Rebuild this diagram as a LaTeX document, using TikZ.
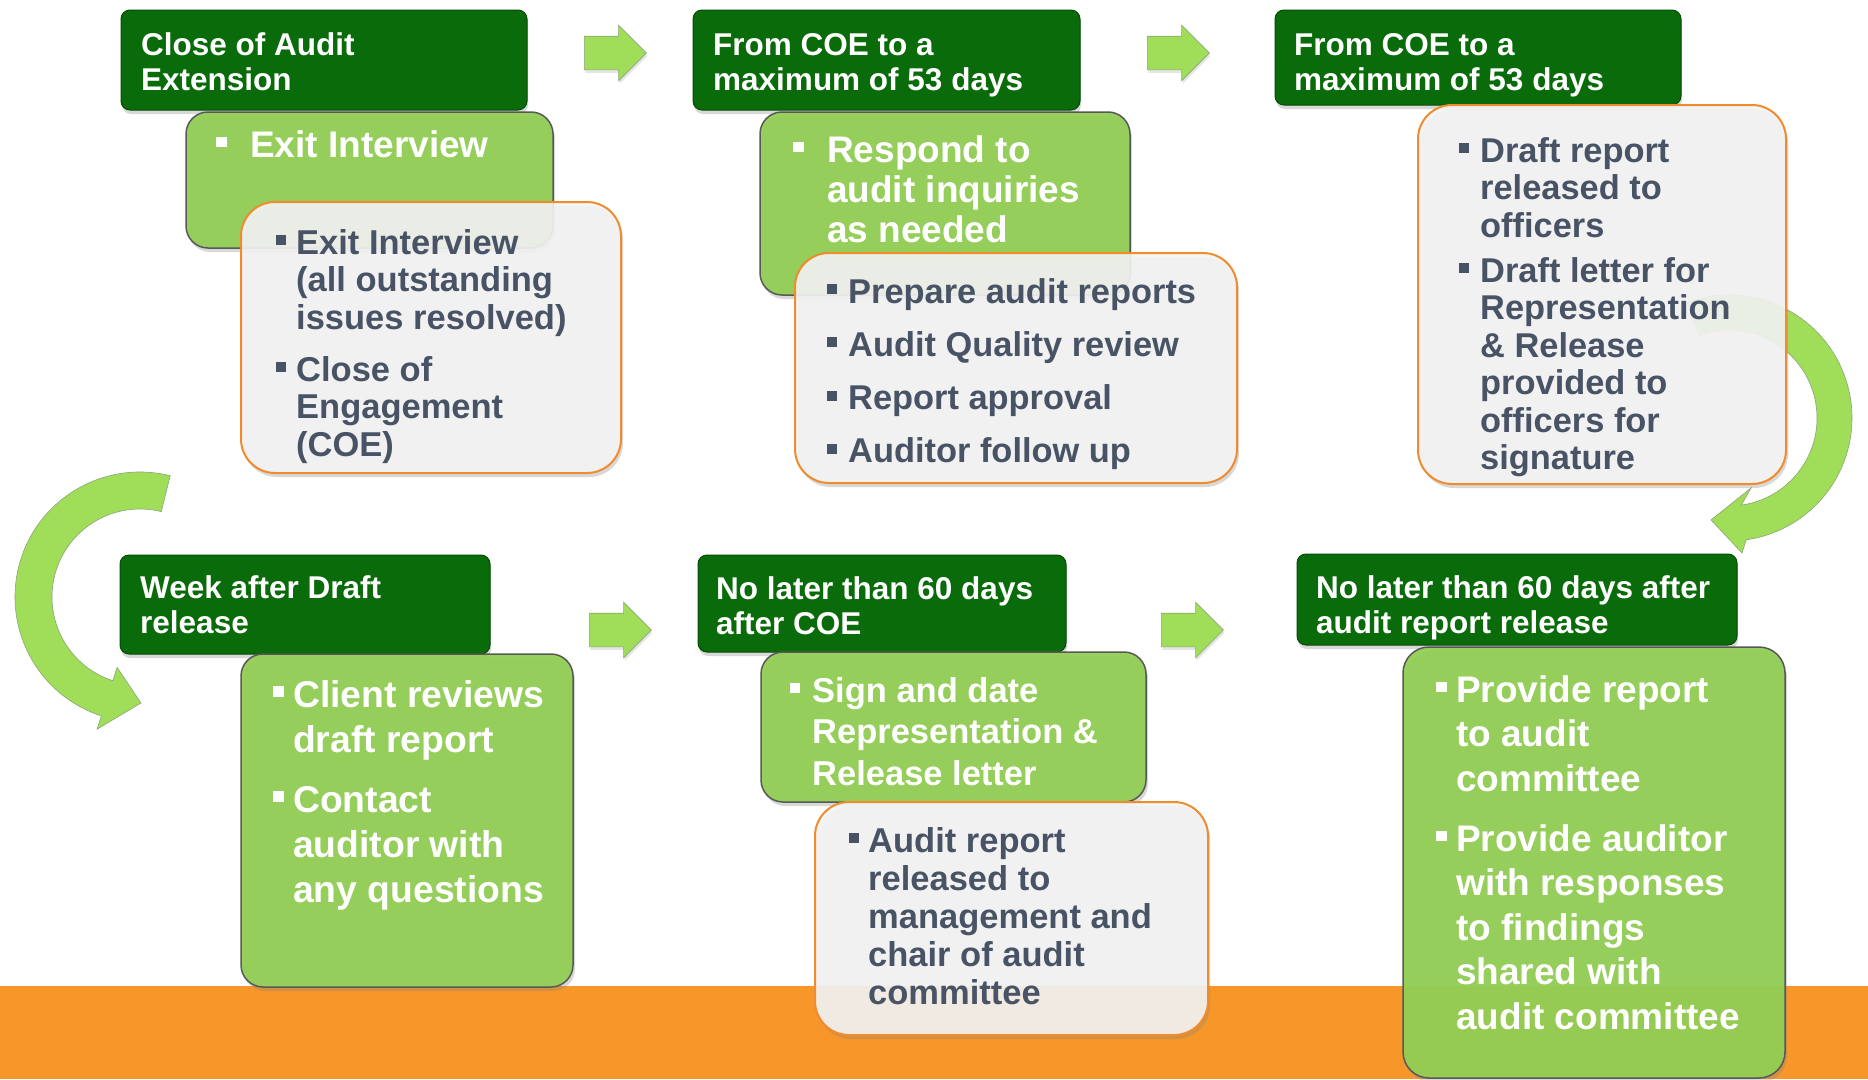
\documentclass[tikz,border=0pt]{standalone}
\usepackage{fontspec}
\setmainfont{Liberation Sans}
\usetikzlibrary{shapes.arrows, shadows, calc}
\definecolor{hdgreen}{RGB}{9,107,9}
\definecolor{taskgreen}{RGB}{146,206,84}
\definecolor{taskline}{RGB}{88,88,88}
\definecolor{notefill}{RGB}{244,244,244}
\definecolor{noterim}{RGB}{240,140,45}
\definecolor{slate}{RGB}{72,84,102}
\definecolor{bandorange}{RGB}{247,151,41}
\definecolor{arrowgreen}{RGB}{160,222,90}
\definecolor{arrowline}{RGB}{140,165,120}

% square bullet and hanging item
\newcommand{\sqbullet}{\rule[0.26em]{0.29em}{0.29em}}
\newcommand{\bitem}[2]{\hangindent=#1\hangafter=1\noindent\makebox[#1][l]{\sqbullet}#2\par}

\begin{document}
\begin{tikzpicture}[x=1pt, y=-1pt,
  stagehead/.style={anchor=north west, draw=hdgreen!70!black, fill=hdgreen, line width=1pt,
    rounded corners=9pt, inner sep=0pt, outer sep=0pt,
    drop shadow={shadow xshift=1pt, shadow yshift=-4pt, opacity=0.3}},
  stagetask/.style={anchor=north west, draw=taskline, fill=taskgreen, fill opacity=0.95, line width=1.5pt,
    rounded corners=22pt, inner sep=0pt, outer sep=0pt,
    drop shadow={shadow xshift=2pt, shadow yshift=-4pt, opacity=0.3}},
  stagenote/.style={anchor=north west, draw=noterim, fill=notefill, fill opacity=0.9, line width=2pt,
    rounded corners=34pt, inner sep=0pt, outer sep=0pt,
    drop shadow={shadow xshift=2pt, shadow yshift=-4pt, opacity=0.3}},
  stagearrow/.style={single arrow, draw=arrowline, fill=arrowgreen, line width=0.6pt,
    minimum height=62pt, inner xsep=0pt, inner ysep=16.5pt, single arrow head extend=11pt,
    single arrow head indent=0pt,
    drop shadow={shadow xshift=1pt, shadow yshift=-3pt, opacity=0.2}},
  curlarrow/.style={fill=arrowgreen, draw=arrowline, line width=0.6pt},
  headtext/.style={anchor=base west, inner sep=0pt, text=white,
    font=\bfseries\fontsize{31.5}{35}\selectfont},
  tasktext/.style={anchor=base west, inner sep=0pt, text=white},
  notetext/.style={anchor=base west, inner sep=0pt, text=slate}
]
\useasboundingbox (0,0) rectangle (1868,1079);
\fill[white] (0,0) rectangle (1868,1079);

% orange band at the bottom
\fill[bandorange] (0,986) rectangle (1868,1079);

% ============================================================
% curved arrows between the rows
% ============================================================
\coordinate (rc) at (1729,418);
\filldraw[curlarrow] ($(rc)+(-110:123)$) arc[start angle=-110, end angle=82, radius=123]
  -- (1742,553) -- (1711,520) -- (1751,488)
  -- ($(rc)+(82:88)$) arc[start angle=82, end angle=-110, radius=88] -- cycle;

\coordinate (lc) at (140,597);
\filldraw[curlarrow] ($(lc)+(-76:125)$) arc[start angle=-76, end angle=-252, radius=125]
  -- ($(lc)+(108:139)$) -- (141,703) -- ($(lc)+(108:74)$)
  -- ($(lc)+(108:88)$) arc[start angle=108, end angle=284, radius=88] -- cycle;

% ============================================================
% stage 1: close of audit extension
% ============================================================
\node[stagehead, minimum width=406pt, minimum height=100pt] (head1) at (121,10) {};
\node[headtext] (head1t) at (141,55) {\parbox[t]{380pt}{Close of Audit\\Extension}};
\node[stagetask, minimum width=367pt, minimum height=136pt] (task1) at (186,112) {};
\node[tasktext, font=\bfseries\fontsize{37}{40}\selectfont] (task1t) at (216,157)
  {\parbox[t]{330pt}{\bitem{34pt}{Exit Interview}}};
\node[stagenote, minimum width=380pt, minimum height=271pt] (note1) at (241,202) {};
\node[notetext, font=\bfseries\fontsize{34.5}{37.5}\selectfont] (note1t) at (276,254)
  {\parbox[t]{330pt}{\bitem{20pt}{Exit Interview\\(all outstanding\\issues resolved)}\vspace{14.5pt}%
   \bitem{20pt}{Close of\\Engagement\\(COE)}}};

% ============================================================
% stage 2: from COE, reports
% ============================================================
\node[stagehead, minimum width=387pt, minimum height=100pt] (head2) at (693,10) {};
\node[headtext] (head2t) at (713,55) {\parbox[t]{360pt}{From COE to a\\maximum of 53 days}};
\node[stagetask, minimum width=370pt, minimum height=183pt] (task2) at (760,112) {};
\node[tasktext, font=\bfseries\fontsize{37}{40}\selectfont] (task2t) at (793,162)
  {\parbox[t]{330pt}{\bitem{34pt}{Respond to\\audit inquiries\\as needed}}};
\node[stagenote, minimum width=442pt, minimum height=230pt] (note2) at (795,253) {};
\node[notetext, font=\bfseries\fontsize{34.4}{37.5}\selectfont] (note2t) at (827,303)
  {\parbox[t]{400pt}{\bitem{21pt}{Prepare audit reports}\vspace{15.8pt}%
   \bitem{21pt}{Audit Quality review}\vspace{15.8pt}%
   \bitem{21pt}{Report approval}\vspace{15.8pt}%
   \bitem{21pt}{Auditor follow up}}};

% ============================================================
% stage 3: from COE, draft
% ============================================================
\node[stagehead, minimum width=406pt, minimum height=95pt] (head3) at (1275,10) {};
\node[headtext] (head3t) at (1294,55) {\parbox[t]{380pt}{From COE to a\\maximum of 53 days}};
\node[stagenote, minimum width=368pt, minimum height=379pt] (note3) at (1418,105) {};
\node[notetext, font=\bfseries\fontsize{34.4}{37.5}\selectfont] (note3t) at (1459,162)
  {\parbox[t]{320pt}{\bitem{21pt}{Draft report\\released to\\officers}\vspace{7.5pt}%
   \bitem{21pt}{Draft letter for\\Representation\\\& Release\\provided to\\officers for\\signature}}};

% ============================================================
% stage 4: week after draft release
% ============================================================
\node[stagehead, minimum width=370pt, minimum height=99pt] (head4) at (120,555) {};
\node[headtext] (head4t) at (140,598) {\parbox[t]{340pt}{Week after Draft\\release}};
\node[stagetask, minimum width=332pt, minimum height=333pt] (task4) at (241,654) {};
\node[tasktext, font=\bfseries\fontsize{37.3}{45}\selectfont] (task4t) at (273,707)
  {\parbox[t]{300pt}{\bitem{20pt}{Client reviews\\draft report}\vspace{15pt}%
   \bitem{20pt}{Contact\\auditor with\\any questions}}};

% ============================================================
% stage 5: no later than 60 days after COE
% ============================================================
\node[stagehead, minimum width=368pt, minimum height=97pt] (head5) at (698,555) {};
\node[headtext] (head5t) at (716,599) {\parbox[t]{350pt}{No later than 60 days\\after COE}};
\node[stagetask, minimum width=385pt, minimum height=150pt] (task5) at (761,652) {};
\node[tasktext, font=\bfseries\fontsize{34.5}{41.5}\selectfont] (task5t) at (790,702)
  {\parbox[t]{360pt}{\bitem{22pt}{Sign and date\\Representation \&\\Release letter}}};
\node[stagenote, minimum width=393pt, minimum height=233pt] (note5) at (815,802) {};
\node[notetext, font=\bfseries\fontsize{34.5}{38}\selectfont] (note5t) at (849,852)
  {\parbox[t]{350pt}{\bitem{19pt}{Audit report\\released to\\management and\\chair of audit\\committee}}};

% ============================================================
% stage 6: no later than 60 days after release
% ============================================================
\node[stagehead, minimum width=440pt, minimum height=91pt] (head6) at (1297,554) {};
\node[headtext] (head6t) at (1316,598) {\parbox[t]{420pt}{No later than 60 days after\\audit report release}};
\node[stagetask, minimum width=382pt, minimum height=431pt, rounded corners=26pt] (task6) at (1403,647) {};
\node[tasktext, font=\bfseries\fontsize{37}{44.5}\selectfont] (task6t) at (1436,702)
  {\parbox[t]{345pt}{\bitem{20pt}{Provide report\\to audit\\committee}\vspace{15.5pt}%
   \bitem{20pt}{Provide auditor\\with responses\\to findings\\shared with\\audit committee}}};

% ============================================================
% straight arrows between the stages
% ============================================================
\node[stagearrow] (step12) at (607,53) {};
\node[stagearrow] (step23) at (1170,53) {};
\node[stagearrow] (step45) at (612,630) {};
\node[stagearrow] (step56) at (1184,630) {};

\end{tikzpicture}
\end{document}
